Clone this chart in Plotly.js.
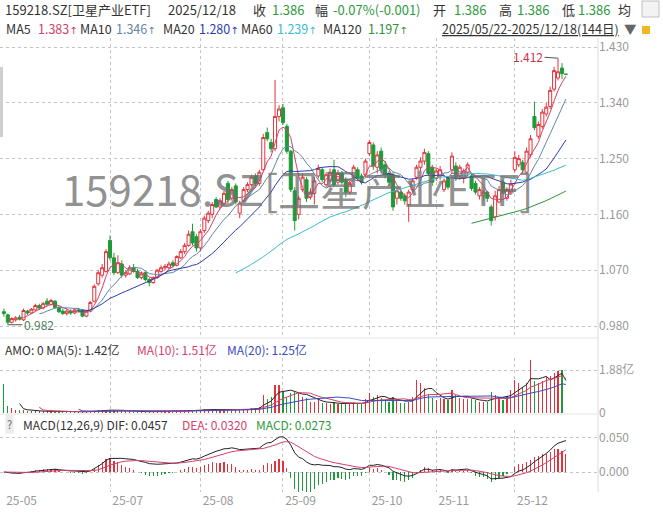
<!DOCTYPE html>
<html><head><meta charset="utf-8">
<script src="https://cdn.plot.ly/plotly-3.0.1.min.js"></script>
<style>html,body{margin:0;padding:0;background:#fff;}#chart{width:663px;height:515px;}</style>
</head><body><div id="chart"></div>
<script>
// ---- data ----
const dates = [
"2025-05-22","2025-05-23","2025-05-26","2025-05-27","2025-05-28","2025-05-29","2025-05-30",
"2025-06-03","2025-06-04","2025-06-05","2025-06-06","2025-06-09","2025-06-10","2025-06-11","2025-06-12","2025-06-13",
"2025-06-16","2025-06-17","2025-06-18","2025-06-19","2025-06-20","2025-06-23","2025-06-24","2025-06-25","2025-06-26","2025-06-27","2025-06-30",
"2025-07-01","2025-07-02","2025-07-03","2025-07-04","2025-07-07","2025-07-08","2025-07-09","2025-07-10","2025-07-11",
"2025-07-14","2025-07-15","2025-07-16","2025-07-17","2025-07-18","2025-07-21","2025-07-22","2025-07-23","2025-07-24","2025-07-25",
"2025-07-28","2025-07-29","2025-07-30","2025-07-31",
"2025-08-01","2025-08-04","2025-08-05","2025-08-06","2025-08-07","2025-08-08","2025-08-11","2025-08-12","2025-08-13","2025-08-14","2025-08-15",
"2025-08-18","2025-08-19","2025-08-20","2025-08-21","2025-08-22","2025-08-25","2025-08-26","2025-08-27","2025-08-28","2025-08-29",
"2025-09-01","2025-09-02","2025-09-03","2025-09-04","2025-09-05","2025-09-08","2025-09-09","2025-09-10","2025-09-11","2025-09-12",
"2025-09-15","2025-09-16","2025-09-17","2025-09-18","2025-09-19","2025-09-22","2025-09-23","2025-09-24","2025-09-25","2025-09-26","2025-09-29","2025-09-30",
"2025-10-09","2025-10-10","2025-10-13","2025-10-14","2025-10-15","2025-10-16","2025-10-17","2025-10-20","2025-10-21","2025-10-22","2025-10-23","2025-10-24",
"2025-10-27","2025-10-28","2025-10-29","2025-10-30","2025-10-31",
"2025-11-03","2025-11-04","2025-11-05","2025-11-06","2025-11-07","2025-11-10","2025-11-11","2025-11-12","2025-11-13","2025-11-14",
"2025-11-17","2025-11-18","2025-11-19","2025-11-20","2025-11-21","2025-11-24","2025-11-25","2025-11-26","2025-11-27","2025-11-28",
"2025-12-01","2025-12-02","2025-12-03","2025-12-04","2025-12-05","2025-12-08","2025-12-09","2025-12-10","2025-12-11","2025-12-12",
"2025-12-15","2025-12-16","2025-12-17","2025-12-18"];

const open = [
1.003,0.998,0.986,0.990,0.994,0.990,1.004,
1.001,1.006,1.013,1.009,1.020,1.015,1.020,1.010,1.004,1.000,1.004,1.001,1.006,1.006,0.996,1.004,1.020,1.048,1.062,1.068,
1.118,1.090,1.066,1.080,1.062,1.064,1.074,1.068,1.058,1.066,1.055,1.050,1.058,1.068,1.074,1.074,1.082,1.078,1.090,1.100,1.110,1.132,1.124,
1.106,1.134,1.150,1.160,1.184,1.172,1.178,1.210,1.186,1.206,1.162,1.182,1.200,1.208,1.222,1.210,1.232,1.292,1.276,1.266,1.318,
1.332,1.302,1.262,1.198,1.160,1.200,1.216,1.188,1.194,1.222,1.232,1.208,1.214,1.232,1.212,1.226,1.216,1.196,1.220,1.232,1.222,1.224,
1.258,1.272,1.236,1.262,1.240,1.226,1.224,1.186,1.196,1.190,1.176,1.200,1.220,1.236,1.246,1.258,1.236,
1.218,1.222,1.200,1.218,1.232,1.238,1.222,1.218,1.228,1.222,1.210,1.190,1.190,1.196,1.172,1.156,1.180,1.212,1.186,1.196,
1.232,1.240,1.244,1.228,1.256,1.318,1.286,1.302,1.322,1.334,1.362,1.380,1.396,1.386];

const high = [
1.008,1.000,0.994,0.996,0.998,1.008,1.006,
1.009,1.016,1.016,1.019,1.025,1.024,1.022,1.012,1.008,1.007,1.007,1.009,1.009,1.007,1.006,1.020,1.047,1.070,1.080,1.104,
1.126,1.098,1.094,1.086,1.070,1.078,1.080,1.072,1.068,1.068,1.058,1.060,1.072,1.078,1.080,1.084,1.086,1.094,1.104,1.114,1.134,1.145,1.128,
1.136,1.158,1.166,1.180,1.188,1.186,1.198,1.214,1.204,1.210,1.182,1.204,1.212,1.224,1.226,1.232,1.290,1.300,1.282,1.377,1.336,
1.338,1.306,1.264,1.204,1.190,1.226,1.220,1.202,1.220,1.240,1.236,1.228,1.234,1.248,1.232,1.230,1.220,1.214,1.240,1.236,1.226,1.250,
1.280,1.276,1.262,1.268,1.246,1.230,1.228,1.204,1.200,1.194,1.200,1.218,1.240,1.252,1.266,1.262,1.240,
1.234,1.238,1.218,1.222,1.260,1.244,1.240,1.234,1.244,1.226,1.214,1.204,1.200,1.198,1.176,1.198,1.206,1.216,1.204,1.216,
1.262,1.256,1.248,1.268,1.288,1.342,1.310,1.330,1.340,1.366,1.398,1.412,1.404,1.386];

const low = [
0.995,0.982,0.984,0.987,0.989,0.988,0.998,
0.999,1.004,1.006,1.007,1.012,1.013,1.008,1.001,0.998,0.997,0.998,0.999,1.002,0.994,0.994,1.002,1.018,1.045,1.058,1.066,
1.086,1.062,1.064,1.058,1.058,1.062,1.066,1.056,1.055,1.052,1.044,1.048,1.056,1.066,1.070,1.072,1.074,1.076,1.088,1.096,1.108,1.110,1.100,
1.100,1.130,1.146,1.154,1.170,1.168,1.174,1.178,1.182,1.176,1.154,1.180,1.196,1.205,1.206,1.206,1.230,1.278,1.260,1.262,1.310,
1.304,1.258,1.196,1.134,1.152,1.196,1.180,1.184,1.176,1.218,1.212,1.204,1.210,1.204,1.208,1.208,1.188,1.192,1.216,1.214,1.208,1.220,
1.254,1.232,1.226,1.226,1.218,1.206,1.166,1.176,1.182,1.176,1.148,1.196,1.216,1.230,1.240,1.222,1.206,
1.214,1.216,1.196,1.200,1.226,1.214,1.216,1.210,1.222,1.198,1.192,1.184,1.182,1.180,1.142,1.150,1.178,1.192,1.182,1.192,
1.228,1.236,1.226,1.224,1.252,1.296,1.282,1.298,1.318,1.330,1.358,1.376,1.378,1.386];

const close = [
1.000,0.986,0.992,0.993,0.991,1.005,1.001,
1.007,1.013,1.009,1.016,1.015,1.021,1.010,1.003,1.000,1.004,1.001,1.006,1.005,0.996,1.004,1.018,1.044,1.066,1.074,1.100,
1.090,1.066,1.082,1.062,1.066,1.074,1.068,1.058,1.064,1.055,1.050,1.058,1.070,1.074,1.076,1.080,1.078,1.092,1.100,1.110,1.128,1.114,1.106,
1.132,1.154,1.162,1.176,1.172,1.182,1.194,1.184,1.200,1.180,1.178,1.200,1.208,1.220,1.210,1.228,1.284,1.282,1.266,1.318,1.330,
1.308,1.262,1.200,1.150,1.186,1.220,1.186,1.196,1.214,1.234,1.216,1.224,1.228,1.208,1.226,1.212,1.196,1.210,1.236,1.218,1.212,1.246,
1.276,1.238,1.256,1.232,1.224,1.212,1.172,1.198,1.186,1.182,1.196,1.214,1.236,1.246,1.260,1.226,1.212,
1.230,1.232,1.214,1.204,1.254,1.220,1.236,1.230,1.240,1.202,1.196,1.200,1.196,1.186,1.150,1.190,1.200,1.195,1.200,1.209,
1.252,1.250,1.232,1.262,1.282,1.300,1.305,1.325,1.333,1.360,1.392,1.390,1.387,1.386];

// turnover (亿元)
const amount = [
1.27,0.32,0.20,0.15,0.12,0.14,0.10,
0.08,0.09,0.07,0.08,0.07,0.08,0.06,0.06,0.05,0.05,0.05,0.06,0.05,0.06,0.05,0.07,0.10,0.12,0.11,0.14,
0.15,0.12,0.10,0.09,0.07,0.07,0.06,0.06,0.05,0.06,0.06,0.05,0.06,0.07,0.06,0.07,0.06,0.08,0.09,0.11,0.14,0.15,0.12,
0.14,0.16,0.15,0.17,0.14,0.13,0.15,0.18,0.14,0.16,0.15,0.14,0.16,0.20,0.24,0.28,0.79,0.60,0.70,1.23,1.23,
0.94,0.72,0.87,0.95,0.87,0.72,0.65,0.50,0.50,0.55,0.45,0.42,0.40,0.48,0.40,0.38,0.45,0.38,0.50,0.40,0.38,0.60,
0.87,0.72,0.78,0.65,0.55,0.50,0.70,0.55,0.45,0.42,0.50,0.70,1.44,1.30,1.08,0.85,0.65,
0.58,0.65,0.60,0.55,1.00,0.80,0.65,0.60,0.62,0.60,0.55,0.50,0.48,0.50,0.90,0.80,0.70,0.55,0.75,1.00,
1.45,1.30,1.15,1.30,2.31,1.40,1.30,1.40,1.59,1.62,1.73,1.85,1.90,0];

const monthLabels = ['25-05','25-07','25-08','25-09','25-10','25-11','25-12'];
const priceTicks = [0.980,1.070,1.160,1.250,1.340,1.430];
const amountTicks = [0,1.88];
const amountTickText = ['0','1.88亿'];
const macdTicks = [0,0.05];

// ---- helpers ----
const xi = dates.map((d,i)=>i);
function sma(a,n){return a.map((v,i)=>{if(i<n-1)return null;let s=0;for(let k=i-n+1;k<=i;k++)s+=a[k];return s/n;});}
function ema(a,n){const k=2/(n+1);const e=[];a.forEach((v,i)=>{e.push(i===0?v:v*k+e[i-1]*(1-k));});return e;}
const e12=ema(close,12), e26=ema(close,26);
const dif=close.map((v,i)=>e12[i]-e26[i]);
const dea=ema(dif,9);
const hist=dif.map((v,i)=>2*(v-dea[i]));

const RED='#e0343c', GREEN='#1f9a3a';
const C5='#d6406a', C10='#6585a5', C20='#2c3cb0', C60='#38bccc', C120='#2f9040';
const FONT='"Noto Sans CJK SC", "Noto Sans", sans-serif';
const H=515, PW=598;
const py = y => (H-y)/H;
const pxx = x => x/PW;

const monthIdx = monthLabels.map(m=>dates.findIndex(d=>d.slice(2,7)===m));
const gridIdx = monthIdx.slice(1);
const labelPos = monthIdx.map(i=>i+4.5);
const xr=[-0.99,151.17];

const upDown = close.map((c,i)=> c>=open[i] ? RED : GREEN);

const traces = [
 {type:'candlestick', x:xi, open, high, low, close, xaxis:'x', yaxis:'y',
  increasing:{line:{color:RED,width:1}, fillcolor:'#ffffff'},
  decreasing:{line:{color:GREEN,width:1}, fillcolor:GREEN},
  whiskerwidth:0, hoverinfo:'skip'},
 {type:'scatter',mode:'lines',x:xi,y:sma(close,5),line:{color:C5,width:1},xaxis:'x',yaxis:'y',hoverinfo:'skip'},
 {type:'scatter',mode:'lines',x:xi,y:sma(close,10),line:{color:C10,width:1},xaxis:'x',yaxis:'y',hoverinfo:'skip'},
 {type:'scatter',mode:'lines',x:xi,y:sma(close,20),line:{color:C20,width:1},xaxis:'x',yaxis:'y',hoverinfo:'skip'},
 {type:'scatter',mode:'lines',x:xi,y:sma(close,60),line:{color:C60,width:1},xaxis:'x',yaxis:'y',hoverinfo:'skip'},
 {type:'scatter',mode:'lines',x:xi,y:sma(close,120),line:{color:C120,width:1},xaxis:'x',yaxis:'y',hoverinfo:'skip'},
 {type:'bar',x:xi,y:amount,width:0.3,marker:{color:upDown,line:{width:0}},xaxis:'x2',yaxis:'y2',hoverinfo:'skip'},
 {type:'scatter',mode:'lines',x:xi,y:sma(amount,5),line:{color:'#222',width:1},xaxis:'x2',yaxis:'y2',hoverinfo:'skip'},
 {type:'scatter',mode:'lines',x:xi,y:sma(amount,10),line:{color:C5,width:1},xaxis:'x2',yaxis:'y2',hoverinfo:'skip'},
 {type:'scatter',mode:'lines',x:xi,y:sma(amount,20),line:{color:'#3a4ac0',width:1},xaxis:'x2',yaxis:'y2',hoverinfo:'skip'},
 {type:'bar',x:xi,y:hist,width:0.3,marker:{color:hist.map(v=>v>=0?RED:GREEN),line:{width:0}},xaxis:'x3',yaxis:'y3',hoverinfo:'skip'},
 {type:'scatter',mode:'lines',x:xi,y:dif,line:{color:'#222',width:1},xaxis:'x3',yaxis:'y3',hoverinfo:'skip'},
 {type:'scatter',mode:'lines',x:xi,y:dea,line:{color:C5,width:1},xaxis:'x3',yaxis:'y3',hoverinfo:'skip'},
 {type:'scatter',mode:'markers',x:[xi[0]],y:[0],marker:{opacity:0},xaxis:'x4',yaxis:'y3',hoverinfo:'skip'}
];

const gridX = {range:xr, tickvals:gridIdx, showticklabels:false, showgrid:true, gridcolor:'#c4c4c4', griddash:'dot', gridwidth:1, zeroline:false, ticks:'', fixedrange:true};
const yCommon = {side:'right', showgrid:true, gridcolor:'#c4c4c4', griddash:'dot', zeroline:false, ticks:'', tickfont:{family:FONT,size:12,color:'#9a9a9a'}, fixedrange:true};

function txt(text,x,y,color,size,extra){return Object.assign({text,x:pxx(x),y:py(y),xref:'paper',yref:'paper',xanchor:'left',yanchor:'middle',showarrow:false,borderpad:0,font:{family:FONT,size:size||13,color}},extra||{});}
const G='#2e9a3c', D='#333333';
const ARW = '<span style="font-family:DejaVu Sans;font-size:10px">↑</span>';
const ann = [];
[['159218.SZ[卫星产业ETF]',4,D],['2025/12/18',167,D],['收',252,D],['1.386',271,G],['幅',314,D],['-0.07%(-0.001)',332,G],
 ['开',432,D],['1.386',453,G],['高',498,D],['1.386',516,G],['低',561,D],['1.386',577,G],['均',617,D]]
 .forEach(a=>ann.push(txt(a[0],a[1],9,a[2],13)));
[['MA5',5,D],['1.383'+ARW,37,C5],['MA10',79,D],['1.346'+ARW,115,C10],['MA20',162,D],['1.280'+ARW,198,C20],['MA60',240,D],['1.239'+ARW,276,C60],
 ['MA120',322,D],['1.197'+ARW,367,C120],['<u>2025/05/22-2025/12/18(144日)</u>',441,D],['▼',623,'#666']]
 .forEach(a=>ann.push(txt(a[0],a[1],28,a[2],12.5)));
[['AMO: 0 MA(5): 1.42亿',4,D],['MA(10): 1.51亿',136,C5],['MA(20): 1.25亿',226,'#3a4ac0']]
 .forEach(a=>ann.push(txt(a[0],a[1],350,a[2],12)));
ann.push(txt('?',5,424,'#666',11,{bgcolor:'#ececec',borderpad:1}));
[['MACD(12,26,9) DIF: 0.0457',22,D],['DEA: 0.0320',181,C5],['MACD: 0.0273',255,G]]
 .forEach(a=>ann.push(txt(a[0],a[1],424,a[2],12)));
// watermark
ann.push({text:'159218.SZ[卫星产业ETF]',x:pxx(297),y:py(187),xref:'paper',yref:'paper',xanchor:'center',yanchor:'middle',showarrow:false,
  font:{family:FONT,size:42,color:'rgba(110,110,110,0.75)'}});
// extremes
const iMax = high.indexOf(Math.max(...high));
const iMin = low.indexOf(Math.min(...low));
ann.push({x:xi[iMax],y:high[iMax],xref:'x',yref:'y',text:high[iMax].toFixed(3),showarrow:true,arrowhead:0,arrowwidth:1,arrowcolor:'#555',ax:-30,ay:-2,
  font:{family:FONT,size:12,color:'#c8324a'}});
ann.push({x:xi[iMin],y:low[iMin],xref:'x',yref:'y',text:low[iMin].toFixed(3),showarrow:true,arrowhead:0,arrowwidth:1,arrowcolor:'#555',ax:31,ay:0,
  font:{family:FONT,size:12,color:'#4d7f5e'}});

const shapes = [
 {type:'line',xref:'paper',yref:'paper',x0:1,x1:1,y0:py(492),y1:py(38),line:{color:'#dcdcdc',width:1}},
 {type:'line',xref:'paper',yref:'paper',x0:0,x1:1,y0:py(338),y1:py(338),line:{color:'#e4e4e4',width:1}},
 {type:'line',xref:'paper',yref:'paper',x0:0,x1:1,y0:py(414),y1:py(414),line:{color:'#e4e4e4',width:1}},
 {type:'rect',xref:'paper',yref:'paper',x0:0,x1:pxx(3),y0:py(137),y1:py(67),fillcolor:'#cfcfcf',line:{width:0}},
 {type:'rect',xref:'paper',yref:'paper',x0:pxx(642),x1:pxx(659),y0:py(17),y1:py(1),fillcolor:'#f3f3f3',line:{color:'#c0c0c0',width:1}},
 {type:'rect',xref:'paper',yref:'paper',x0:pxx(642),x1:pxx(650),y0:py(34),y1:py(26),fillcolor:'#f0b820',line:{width:0}}
];

// MACD panel: zero at y=472px, 0.05 at y=437.5px
const macdPerPx = 0.05/34.5;
const layout = {
 width:663, height:515, margin:{l:0,r:65,t:0,b:0}, paper_bgcolor:'#ffffff', plot_bgcolor:'#ffffff',
 showlegend:false, font:{family:FONT,size:12,color:'#9a9a9a'}, boxgap:0.12, boxgroupgap:0.12, bargap:0,
 xaxis:Object.assign({},gridX,{anchor:'y',domain:[0,1],rangeslider:{visible:false}}),
 yaxis:Object.assign({},yCommon,{domain:[py(336),py(38)],range:[0.96387,1.44452],tickvals:priceTicks,tickformat:'.3f'}),
 xaxis2:Object.assign({},gridX,{anchor:'y2',domain:[0,1]}),
 yaxis2:Object.assign({},yCommon,{domain:[py(413),py(358)],range:[0,2.405],tickvals:amountTicks,ticktext:amountTickText}),
 xaxis3:Object.assign({},gridX,{anchor:'y3',domain:[0,1]}),
 yaxis3:Object.assign({},yCommon,{domain:[py(492),py(430)],range:[-(492-472)*macdPerPx,(472-430)*macdPerPx],tickvals:macdTicks,tickformat:'.3f'}),
 xaxis4:{overlaying:'x3',anchor:'y3',range:xr,tickvals:labelPos,ticktext:monthLabels,showgrid:false,zeroline:false,ticks:'',side:'bottom',
   tickfont:{family:FONT,size:12,color:'#9a9a9a'},fixedrange:true},
 annotations:ann, shapes:shapes
};
Plotly.newPlot('chart',traces,layout,{displayModeBar:false,staticPlot:true});
</script></body></html>
